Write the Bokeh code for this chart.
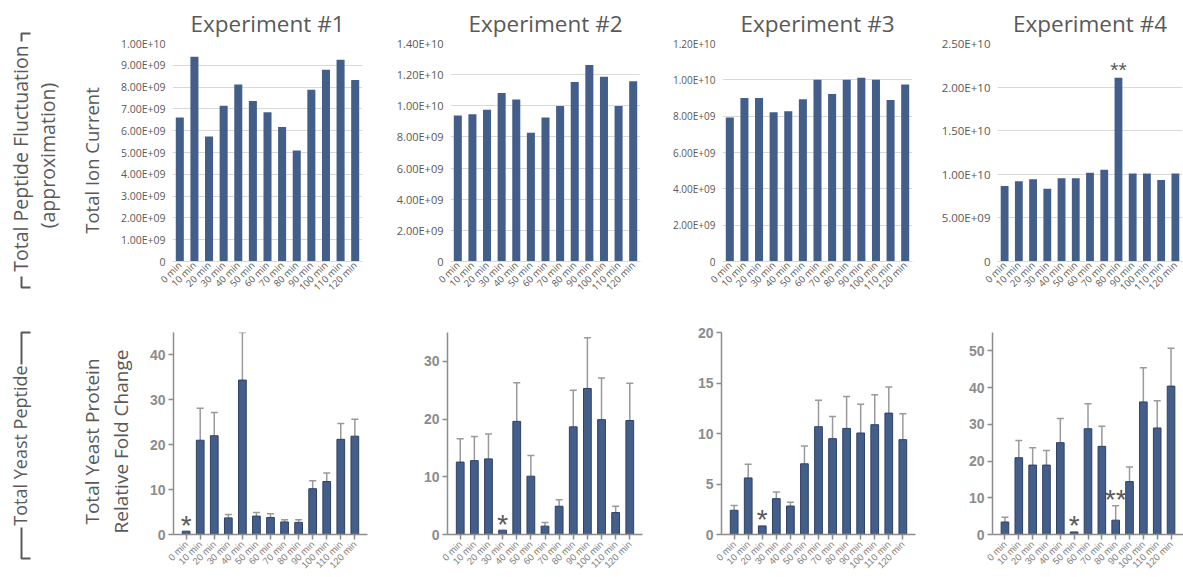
import math
from bokeh.plotting import figure
from bokeh.models import FactorRange, Range1d, FixedTicker, ColumnDataSource, Whisker, TeeHead
from bokeh.layouts import row, column
from bokeh.embed import file_html
from bokeh.resources import INLINE
from bokeh.core.properties import value

# ---------------- data ----------------
times = ["0 min", "10 min", "20 min", "30 min", "40 min", "50 min", "60 min",
         "70 min", "80 min", "90 min", "100 min", "110 min", "120 min"]

exp_titles = ["Experiment #1", "Experiment #2", "Experiment #3", "Experiment #4"]

# Total ion current (top row)
tic_exp1 = [6.60e9, 9.39e9, 5.73e9, 7.15e9, 8.12e9, 7.36e9, 6.85e9, 6.17e9, 5.09e9, 7.88e9, 8.80e9, 9.26e9, 8.32e9]
tic_exp2 = [9.37e9, 9.46e9, 9.74e9, 1.082e10, 1.041e10, 8.27e9, 9.25e9, 9.99e9, 1.152e10, 1.262e10, 1.186e10, 9.99e9, 1.158e10]
tic_exp3 = [7.93e9, 9.00e9, 9.00e9, 8.22e9, 8.27e9, 8.93e9, 1.000e10, 9.22e9, 1.000e10, 1.011e10, 1.000e10, 8.89e9, 9.75e9]
tic_exp4 = [8.67e9, 9.20e9, 9.43e9, 8.33e9, 9.55e9, 9.55e9, 1.019e10, 1.053e10, 2.106e10, 1.008e10, 1.008e10, 9.36e9, 1.008e10]

# Total yeast protein relative fold change (bottom row): mean and upper end of error bar
fold_exp1 = [0.74, 21.0, 22.0, 3.7, 34.4, 4.1, 3.8, 2.8, 2.7, 10.2, 11.8, 21.2, 21.9]
fold_up1 = [None, 28.1, 27.2, 4.45, 45.0, 4.9, 4.6, 3.3, 3.3, 12.0, 13.7, 24.7, 25.7]
fold_exp2 = [12.55, 12.8, 13.1, 0.75, 19.6, 10.1, 1.45, 4.9, 18.65, 25.3, 19.9, 3.8, 19.75]
fold_up2 = [16.6, 17.0, 17.4, None, 26.3, 13.7, 2.1, 6.0, 25.0, 34.1, 27.1, 4.9, 26.2]
fold_exp3 = [2.4, 5.6, 0.85, 3.55, 2.82, 7.0, 10.67, 9.49, 10.5, 10.05, 10.87, 12.02, 9.39]
fold_up3 = [2.86, 6.96, None, 4.2, 3.19, 8.77, 13.3, 11.69, 13.66, 12.9, 13.83, 14.6, 11.95]
fold_exp4 = [3.4, 20.9, 18.9, 18.9, 25.0, 0.7, 28.8, 24.0, 3.9, 14.4, 36.1, 29.0, 40.4]
fold_up4 = [4.7, 25.6, 23.6, 22.9, 31.6, None, 35.6, 29.5, 7.8, 18.4, 45.4, 36.4, 50.7]

# axis ticks / tick labels
top_ticks1 = [0, 1e9, 2e9, 3e9, 4e9, 5e9, 6e9, 7e9, 8e9, 9e9, 1e10]
top_labels1 = ["0", "1.00E+09", "2.00E+09", "3.00E+09", "4.00E+09", "5.00E+09",
               "6.00E+09", "7.00E+09", "8.00E+09", "9.00E+09", "1.00E+10"]
top_ticks2 = [0, 2e9, 4e9, 6e9, 8e9, 1e10, 1.2e10, 1.4e10]
top_labels2 = ["0", "2.00E+09", "4.00E+09", "6.00E+09", "8.00E+09", "1.00E+10", "1.20E+10", "1.40E+10"]
top_ticks3 = [0, 2e9, 4e9, 6e9, 8e9, 1e10, 1.2e10]
top_labels3 = ["0", "2.00E+09", "4.00E+09", "6.00E+09", "8.00E+09", "1.00E+10", "1.20E+10"]
top_ticks4 = [0, 5e9, 1e10, 1.5e10, 2e10, 2.5e10]
top_labels4 = ["0", "5.00E+09", "1.00E+10", "1.50E+10", "2.00E+10", "2.50E+10"]

bot_ticks1 = [0, 10, 20, 30, 40]
bot_ticks2 = [0, 10, 20, 30]
bot_ticks3 = [0, 5, 10, 15, 20]
bot_ticks4 = [0, 10, 20, 30, 40, 50]
bot_ymax = [45, 35, 20, 55]

# significance markers
top_stars = [[], [], [], [("80 min", "**")]]
bot_stars = [[("0 min", "*")], [("30 min", "*")], [("20 min", "*")],
             [("50 min", "*"), ("80 min", "**")]]

# ---------------- style ----------------
BAR = "#445e8a"
BAR_EDGE = "#2f4165"
TXT = "#595959"
GRID = "#d9d9d9"
AX2 = "#8c8c8c"
ERR = "#9a9a9a"
FONT = "Open Sans"
FONT2 = "Liberation Sans"

TOP_H = 300
BOT_H = 277


def base_fig(width, height, x_range, y_range, bl, br, bt, bb, **kw):
    p = figure(width=width, height=height, x_range=x_range, y_range=y_range,
               output_backend="svg", toolbar_location=None,
               min_border_left=bl, min_border_right=br, min_border_top=bt, min_border_bottom=bb, **kw)
    p.outline_line_color = None
    p.background_fill_color = "white"
    p.border_fill_color = "white"
    return p


def top_panel(i, vals, ticks, labels, ymax, width, bl, br, lab_size):
    p = base_fig(width, TOP_H, FactorRange(*times), Range1d(0, ymax), bl, br, 43, 37)
    p.title.text = exp_titles[i]
    p.title.align = "center"
    p.title.text_font = FONT
    p.title.text_font_size = "22.5px"
    p.title.text_font_style = "normal"
    p.title.text_color = TXT
    p.title.standoff = 10
    src = ColumnDataSource(dict(x=times, top=vals))
    p.vbar(x="x", top="top", width=0.55, source=src, fill_color=BAR, line_color=None)
    p.xgrid.grid_line_color = None
    p.ygrid.grid_line_color = GRID
    p.ygrid.grid_line_width = 1
    p.yaxis.ticker = FixedTicker(ticks=ticks)
    p.yaxis.major_label_overrides = {t: l for t, l in zip(ticks, labels)}
    p.yaxis.axis_line_color = None
    p.yaxis.major_tick_line_color = None
    p.yaxis.major_tick_out = 0
    p.yaxis.major_tick_in = 0
    p.yaxis.minor_tick_line_color = None
    p.yaxis.major_label_text_font = FONT
    p.yaxis.major_label_text_font_size = lab_size
    p.yaxis.major_label_text_color = TXT
    p.yaxis.major_label_standoff = 7
    p.xaxis.axis_line_color = GRID
    p.xaxis.major_tick_line_color = None
    p.xaxis.major_tick_out = 0
    p.xaxis.major_tick_in = 0
    p.xaxis.minor_tick_line_color = None
    p.xaxis.major_label_orientation = math.pi / 4
    p.xaxis.major_label_text_font = FONT
    p.xaxis.major_label_text_font_size = "9.5px"
    p.xaxis.major_label_text_color = TXT
    p.xaxis.major_label_standoff = 2
    for cat, s in top_stars[i]:
        y = vals[times.index(cat)]
        p.text(x=[cat], y=[y], text=[s], text_align="center", text_baseline="alphabetic",
               y_offset=-8, text_font=value(FONT2), text_font_size="21px", text_color=TXT)
    return p


def bot_panel(i, vals, ups, ticks, ymax, width, bl, br):
    xr = FactorRange(*times, range_padding=0.4, range_padding_units="absolute")
    p = base_fig(width, BOT_H, xr, Range1d(0, ymax), bl, br, 32, 41)
    src = ColumnDataSource(dict(x=times, top=vals))
    p.vbar(x="x", top="top", width=0.55, source=src, fill_color=BAR,
           line_color=BAR_EDGE, line_width=1)
    ex = [t for t, u in zip(times, ups) if u is not None]
    ev = [v for v, u in zip(vals, ups) if u is not None]
    eu = [u for u in ups if u is not None]
    esrc = ColumnDataSource(dict(x=ex, lower=ev, upper=eu))
    w = Whisker(source=esrc, base="x", lower="lower", upper="upper",
                line_color=ERR, line_width=1.5, lower_head=None,
                upper_head=TeeHead(size=7, line_color=ERR, line_width=1.5))
    p.add_layout(w)
    p.grid.grid_line_color = None
    for ax in (p.xaxis, p.yaxis):
        ax.axis_line_color = AX2
        ax.axis_line_width = 1.5
        ax.major_tick_line_color = AX2
        ax.major_tick_line_width = 1.5
        ax.major_tick_out = 5
        ax.major_tick_in = 0
        ax.minor_tick_line_color = None
    p.yaxis.ticker = FixedTicker(ticks=ticks)
    p.yaxis.major_label_text_font = FONT2
    p.yaxis.major_label_text_font_style = "bold"
    p.yaxis.major_label_text_font_size = "14px"
    p.yaxis.major_label_text_color = AX2
    p.yaxis.major_label_standoff = 3
    p.xaxis.major_label_orientation = math.pi / 4
    p.xaxis.major_label_text_font = FONT2
    p.xaxis.major_label_text_font_size = "9.5px"
    p.xaxis.major_label_text_color = "#808080"
    p.xaxis.major_label_standoff = 3
    for cat, s in bot_stars[i]:
        k = times.index(cat)
        y = ups[k] if ups[k] is not None else vals[k]
        p.text(x=[cat], y=[y], text=[s], text_align="center", text_baseline="alphabetic",
               y_offset=-6, text_font=value(FONT2), text_font_size="28px", text_color=TXT)
    return p


def label_fig(width, height):
    f = base_fig(width, height, Range1d(0, width), Range1d(0, height), 0, 0, 0, 0,
                 x_axis_location=None, y_axis_location=None)
    f.grid.visible = False
    return f


# ---------------- top row ----------------
lab_top = label_fig(108, TOP_H)
lab_top.text(x=[20, 47], y=[142, 145], text=["Total Peptide Fluctuation", "(approximation)"],
             angle=math.pi / 2, text_align="center", text_baseline="middle",
             text_font=value(FONT), text_font_size="19.5px", text_color=TXT)
lab_top.text(x=[91], y=[140], text=["Total Ion Current"], angle=math.pi / 2,
             text_align="center", text_baseline="middle",
             text_font=value(FONT), text_font_size="18.5px", text_color=TXT)
lab_top.line(x=[30, 21, 21], y=[267, 267, 259], line_color=TXT, line_width=2)
lab_top.line(x=[21, 21, 30], y=[24, 13, 13], line_color=TXT, line_width=2)

tops = [
    top_panel(0, tic_exp1, top_ticks1, top_labels1, 1e10, 280, 64, 26, "10.5px"),
    top_panel(1, tic_exp2, top_ticks2, top_labels2, 1.4e10, 280, 62, 28, "11px"),
    top_panel(2, tic_exp3, top_ticks3, top_labels3, 1.2e10, 270, 54, 26, "10px"),
    top_panel(3, tic_exp4, top_ticks4, top_labels4, 2.5e10, 245, 54, 1, "11.5px"),
]

# ---------------- bottom row ----------------
lab_bot = label_fig(138, BOT_H)
lab_bot.text(x=[19], y=[132], text=["Total Yeast Peptide"], angle=math.pi / 2,
             text_align="center", text_baseline="middle",
             text_font=value(FONT), text_font_size="18px", text_color=TXT)
lab_bot.text(x=[91, 120], y=[136, 136], text=["Total Yeast Protein", "Relative Fold Change"],
             angle=math.pi / 2, text_align="center", text_baseline="middle",
             text_font=value(FONT), text_font_size="19px", text_color=TXT)
lab_bot.line(x=[30, 21, 21], y=[245, 245, 213], line_color=TXT, line_width=2)
lab_bot.line(x=[21, 21, 30], y=[50, 19, 19], line_color=TXT, line_width=2)

bots = [
    bot_panel(0, fold_exp1, fold_up1, bot_ticks1, bot_ymax[0], 270, 35, 41),
    bot_panel(1, fold_exp2, fold_up2, bot_ticks2, bot_ymax[1], 275, 39, 41),
    bot_panel(2, fold_exp3, fold_up3, bot_ticks3, bot_ymax[2], 275, 38, 43),
    bot_panel(3, fold_exp4, fold_up4, bot_ticks4, bot_ymax[3], 225, 34, 0),
]

layout = column(row(column(lab_top), *tops), row(column(lab_bot), *bots))

with open("out.html", "w") as fh:
    fh.write(file_html(layout, INLINE))
